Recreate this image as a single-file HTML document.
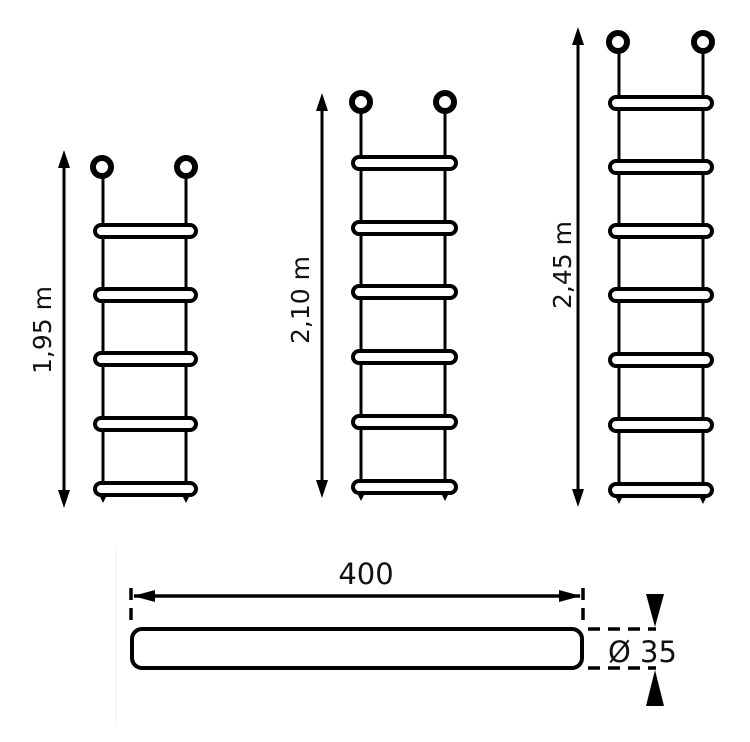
<!DOCTYPE html>
<html><head><style>html,body{margin:0;padding:0;background:#fff}svg{display:block}</style></head>
<body>
<svg width="750" height="742" viewBox="0 0 750 742" xmlns="http://www.w3.org/2000/svg" font-family="'DejaVu Sans','Liberation Sans',sans-serif">
<g stroke="#000" fill="none">
<!-- Ladder 1 -->
<line x1="103" y1="176" x2="103" y2="498" stroke-width="3"/>
<line x1="186" y1="176" x2="186" y2="498" stroke-width="3"/>
<circle cx="102" cy="167" r="9" stroke-width="6" fill="#fff"/>
<circle cx="186" cy="167" r="9" stroke-width="6" fill="#fff"/>
<g stroke-width="4" fill="#fff">
<rect x="95" y="225" width="101" height="12" rx="6"/>
<rect x="95" y="289" width="101" height="12" rx="6"/>
<rect x="95" y="353" width="101" height="12" rx="6"/>
<rect x="95" y="418" width="101" height="12" rx="6"/>
<rect x="95" y="483" width="101" height="12" rx="6"/>
</g>
<line x1="64" y1="165" x2="64" y2="494" stroke-width="3"/>
<!-- Ladder 2 -->
<line x1="361" y1="111" x2="361" y2="496" stroke-width="3"/>
<line x1="445" y1="111" x2="445" y2="496" stroke-width="3"/>
<circle cx="361" cy="102" r="9" stroke-width="6" fill="#fff"/>
<circle cx="445" cy="102" r="9" stroke-width="6" fill="#fff"/>
<g stroke-width="4" fill="#fff">
<rect x="353" y="157" width="103" height="12" rx="6"/>
<rect x="353" y="222" width="103" height="12" rx="6"/>
<rect x="353" y="286" width="103" height="12" rx="6"/>
<rect x="353" y="351" width="103" height="12" rx="6"/>
<rect x="353" y="416" width="103" height="12" rx="6"/>
<rect x="353" y="481" width="103" height="12" rx="6"/>
</g>
<line x1="322" y1="108" x2="322" y2="483" stroke-width="3"/>
<!-- Ladder 3 -->
<line x1="619" y1="51" x2="619" y2="500" stroke-width="3"/>
<line x1="703" y1="51" x2="703" y2="500" stroke-width="3"/>
<circle cx="618" cy="42" r="9" stroke-width="6" fill="#fff"/>
<circle cx="703" cy="42" r="9" stroke-width="6" fill="#fff"/>
<g stroke-width="4" fill="#fff">
<rect x="610" y="97" width="102" height="12" rx="6"/>
<rect x="610" y="161" width="102" height="12" rx="6"/>
<rect x="610" y="225" width="102" height="12" rx="6"/>
<rect x="610" y="289" width="102" height="12" rx="6"/>
<rect x="610" y="354" width="102" height="12" rx="6"/>
<rect x="610" y="419" width="102" height="12" rx="6"/>
<rect x="610" y="484" width="102" height="12" rx="6"/>
</g>
<line x1="578" y1="42" x2="578" y2="492" stroke-width="3"/>
<!-- Rod -->
<rect x="132" y="629" width="450" height="39" rx="10" stroke-width="4"/>
<line x1="134" y1="596" x2="580" y2="596" stroke-width="3.5"/>
<line x1="131" y1="588" x2="131" y2="622" stroke-width="3.5" stroke-dasharray="12,8"/>
<line x1="583" y1="588" x2="583" y2="622" stroke-width="3.5" stroke-dasharray="12,8"/>
<line x1="588" y1="629" x2="656" y2="629" stroke-width="3.5" stroke-dasharray="12,8"/>
<line x1="588" y1="668" x2="656" y2="668" stroke-width="3.5" stroke-dasharray="12,8"/>
<line x1="116" y1="550" x2="116" y2="722" stroke="#eee" stroke-width="1"/>
</g>
<g fill="#000">
<polygon points="64,150 58,168 70,168"/>
<polygon points="64,508 58,490 70,490"/>
<polygon points="322,93 316,111 328,111"/>
<polygon points="322,498 316,480 328,480"/>
<polygon points="578,27 572,45 584,45"/>
<polygon points="578,507 572,489 584,489"/>
<polygon points="133,596 155,590 155,602"/>
<polygon points="581,596 559,590 559,602"/>
<polygon points="655,627 646,594 664,594"/>
<polygon points="655,670 646,706 664,706"/>
<polygon points="100,497 106,497 103,503"/><polygon points="183,497 189,497 186,503"/>
<polygon points="358,495 364,495 361,501"/><polygon points="442,495 448,495 445,501"/>
<polygon points="616,498 622,498 619,504"/><polygon points="700,498 706,498 703,504"/>
</g>
<g fill="#111" font-size="25">
<text x="0" y="0" text-anchor="middle" transform="translate(51,330) rotate(-90)">1,95 m</text>
<text x="0" y="0" text-anchor="middle" transform="translate(309,300) rotate(-90)">2,10 m</text>
<text x="0" y="0" text-anchor="middle" transform="translate(571,265) rotate(-90)">2,45 m</text>
<text x="366" y="584" text-anchor="middle" font-size="29">400</text>
<text x="608" y="662" font-size="29">Ø 35</text>
</g>
</svg>
</body></html>
